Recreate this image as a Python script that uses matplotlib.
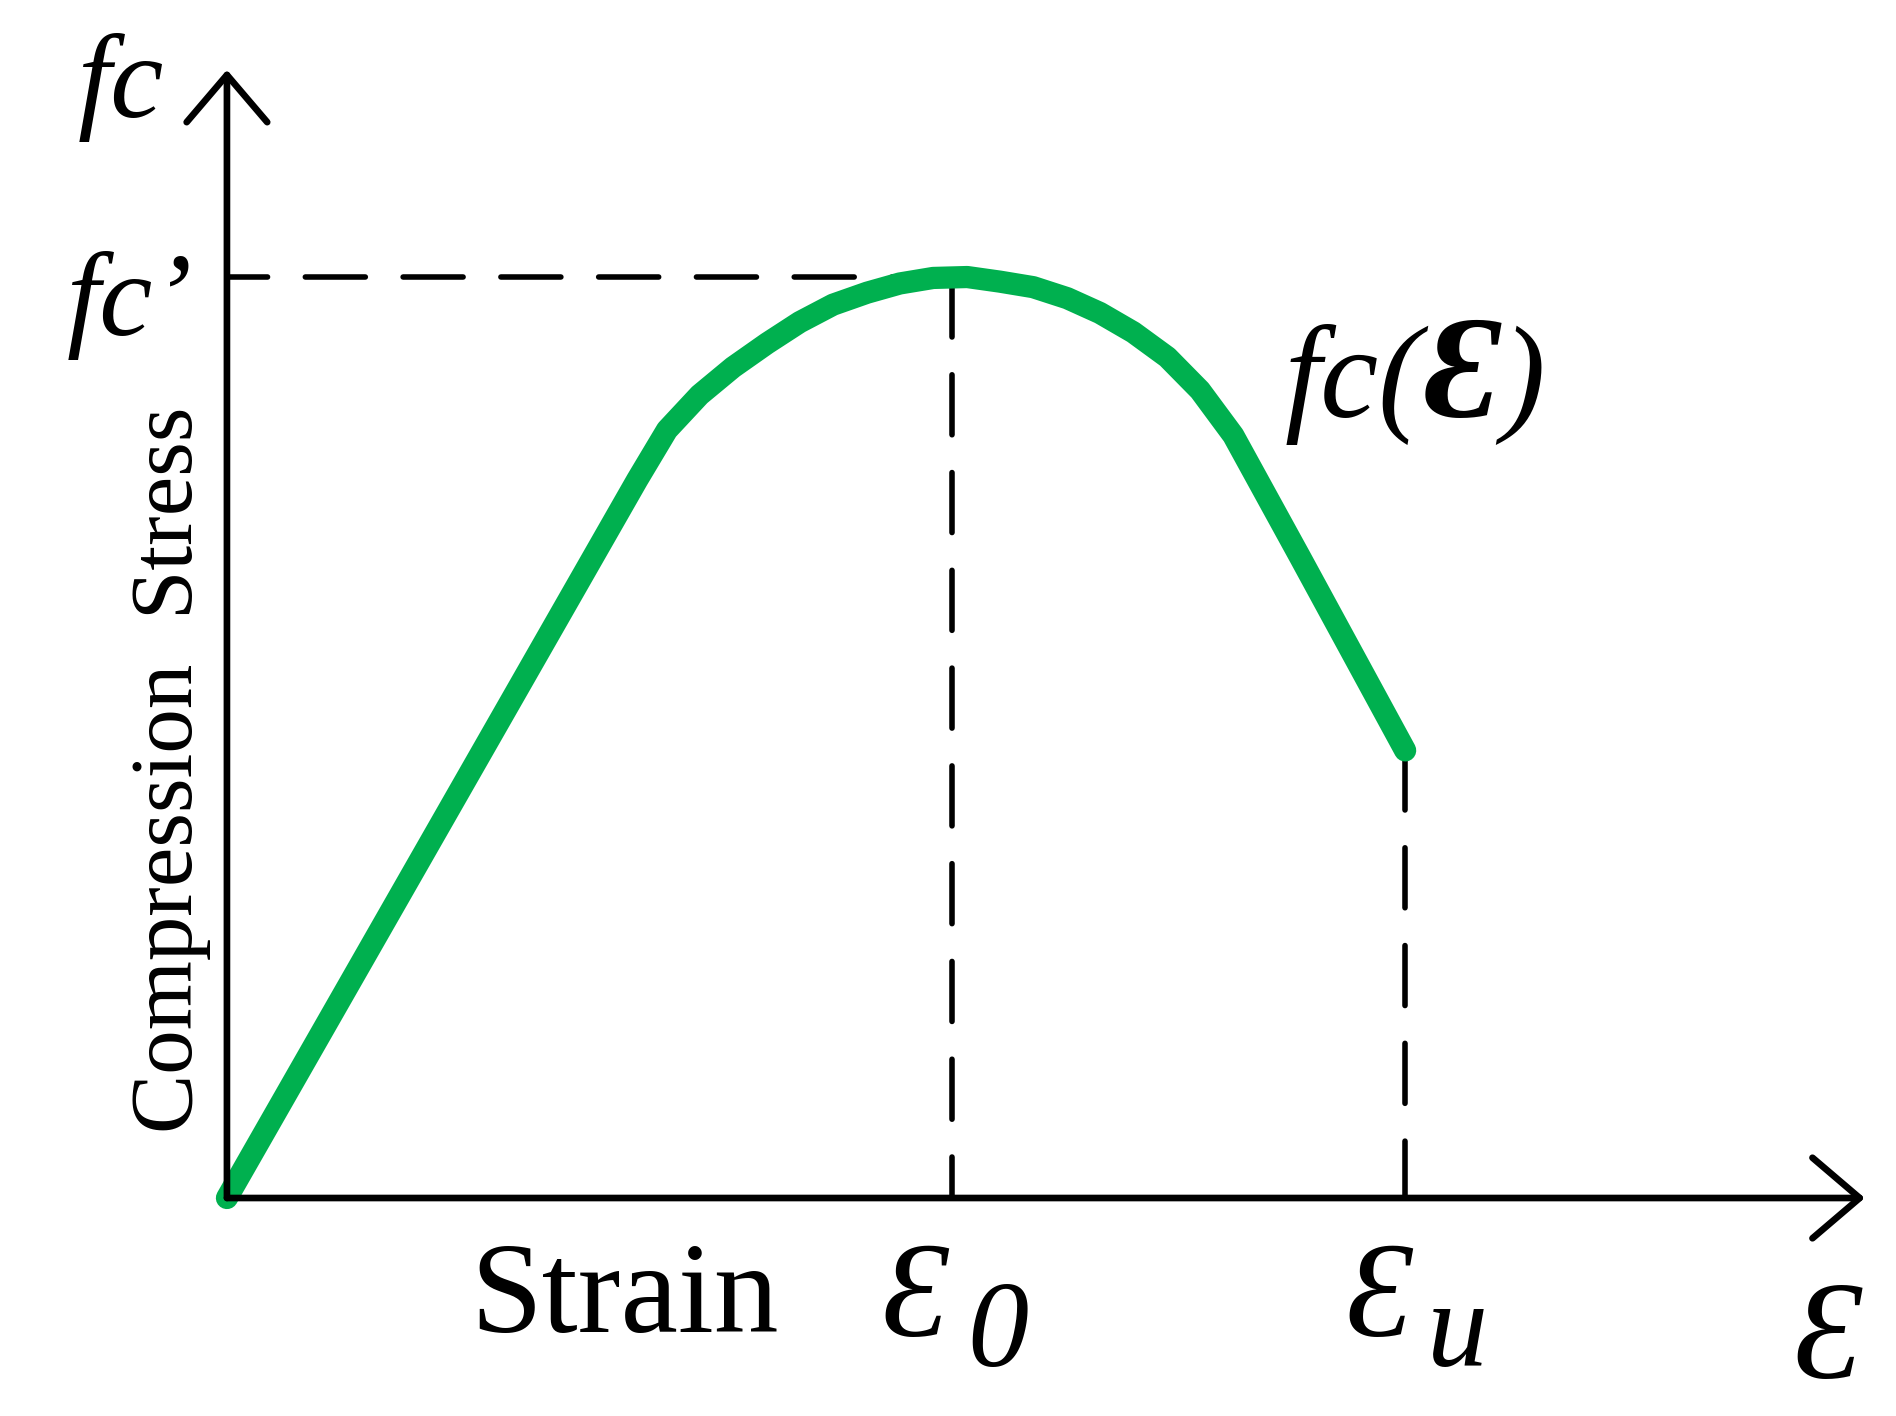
import numpy as np
import matplotlib.pyplot as plt

plt.rcParams['font.family'] = ['Liberation Serif', 'DejaVu Serif']

# schematic stress-strain curve (strain in units of eps0, stress in units of fc')
strain = [0.0, 0.566, 0.607, 0.652, 0.698, 0.745, 0.790, 0.836, 0.883, 0.928, 0.974,
          1.021, 1.066, 1.112, 1.159, 1.204, 1.250, 1.297, 1.342, 1.388, 1.480, 1.625]
stress = [0.0, 0.780, 0.834, 0.872, 0.902, 0.928, 0.951, 0.970, 0.983, 0.993, 0.999,
          1.000, 0.995, 0.989, 0.977, 0.961, 0.940, 0.913, 0.877, 0.828, 0.696, 0.486]

eps0 = 1.0
eps_u = 1.625
fc_peak = 1.0
fc_u = 0.486

fig = plt.figure(figsize=(18.96, 14.16), dpi=100)
ax = fig.add_axes([0, 0, 1, 1])
ax.set_xlim(-0.313, 2.302)
ax.set_ylim(-0.2367, 1.3008)
ax.axis('off')

# axes with open arrow heads
arr = dict(arrowstyle='->,head_length=3.4,head_width=2.9', lw=4.8, color='black',
           shrinkA=0, shrinkB=0, mutation_scale=10)
ax.annotate('', xy=(2.259, 0), xytext=(0, 0), arrowprops=arr)
ax.annotate('', xy=(0, 1.225), xytext=(0, 0), arrowprops=arr)

# dashed guide lines
dash = dict(color='black', lw=4.0, dashes=(10.8, 6.8), dash_capstyle='round')
ax.plot([eps0, 0], [fc_peak, fc_peak], **dash)
ax.plot([eps0, eps0], [fc_peak, 0], **dash)
ax.plot([eps_u, eps_u], [fc_u, 0], **dash)

ax.plot(strain, stress, color='#00b04f', lw=16, solid_capstyle='round',
        solid_joinstyle='round')

# labels
ax.text(-0.087, 1.174, 'fc', fontsize=86, style='italic', ha='right', va='baseline')
ax.text(-0.047, 0.937, 'fc\u2019', fontsize=86, style='italic', ha='right', va='baseline')
ax.text(-0.078, 0.465, 'Compression  Stress', fontsize=64, rotation=90,
        ha='center', va='center')
ax.text(0.549, -0.1455, 'Strain', fontsize=93, ha='center', va='baseline')
ax.text(0.902, -0.150, '\u0190', fontsize=98, style='italic', ha='left', va='baseline')
ax.text(1.021, -0.182, '0', fontsize=88, style='italic', ha='left', va='baseline')
ax.text(1.543, -0.150, '\u0190', fontsize=98, style='italic', ha='left', va='baseline')
ax.text(1.655, -0.182, 'u', fontsize=88, style='italic', ha='left', va='baseline')
ax.text(2.160, -0.195, '\u0190', fontsize=100, style='italic', ha='left', va='baseline')

t1 = ax.text(1.458, 0.848, 'fc(', fontsize=94, style='italic', ha='left', va='baseline')
t2 = ax.annotate('\u0190', xy=(1, 0), xycoords=t1, xytext=(2, -2.4),
                 textcoords='offset points', fontsize=105, style='italic',
                 weight='bold', ha='left', va='bottom')
ax.annotate(')', xy=(1, 0), xycoords=t2, xytext=(2, 2.4), textcoords='offset points',
            fontsize=94, style='italic', ha='left', va='bottom')

fig.savefig('out.png', dpi=100)
